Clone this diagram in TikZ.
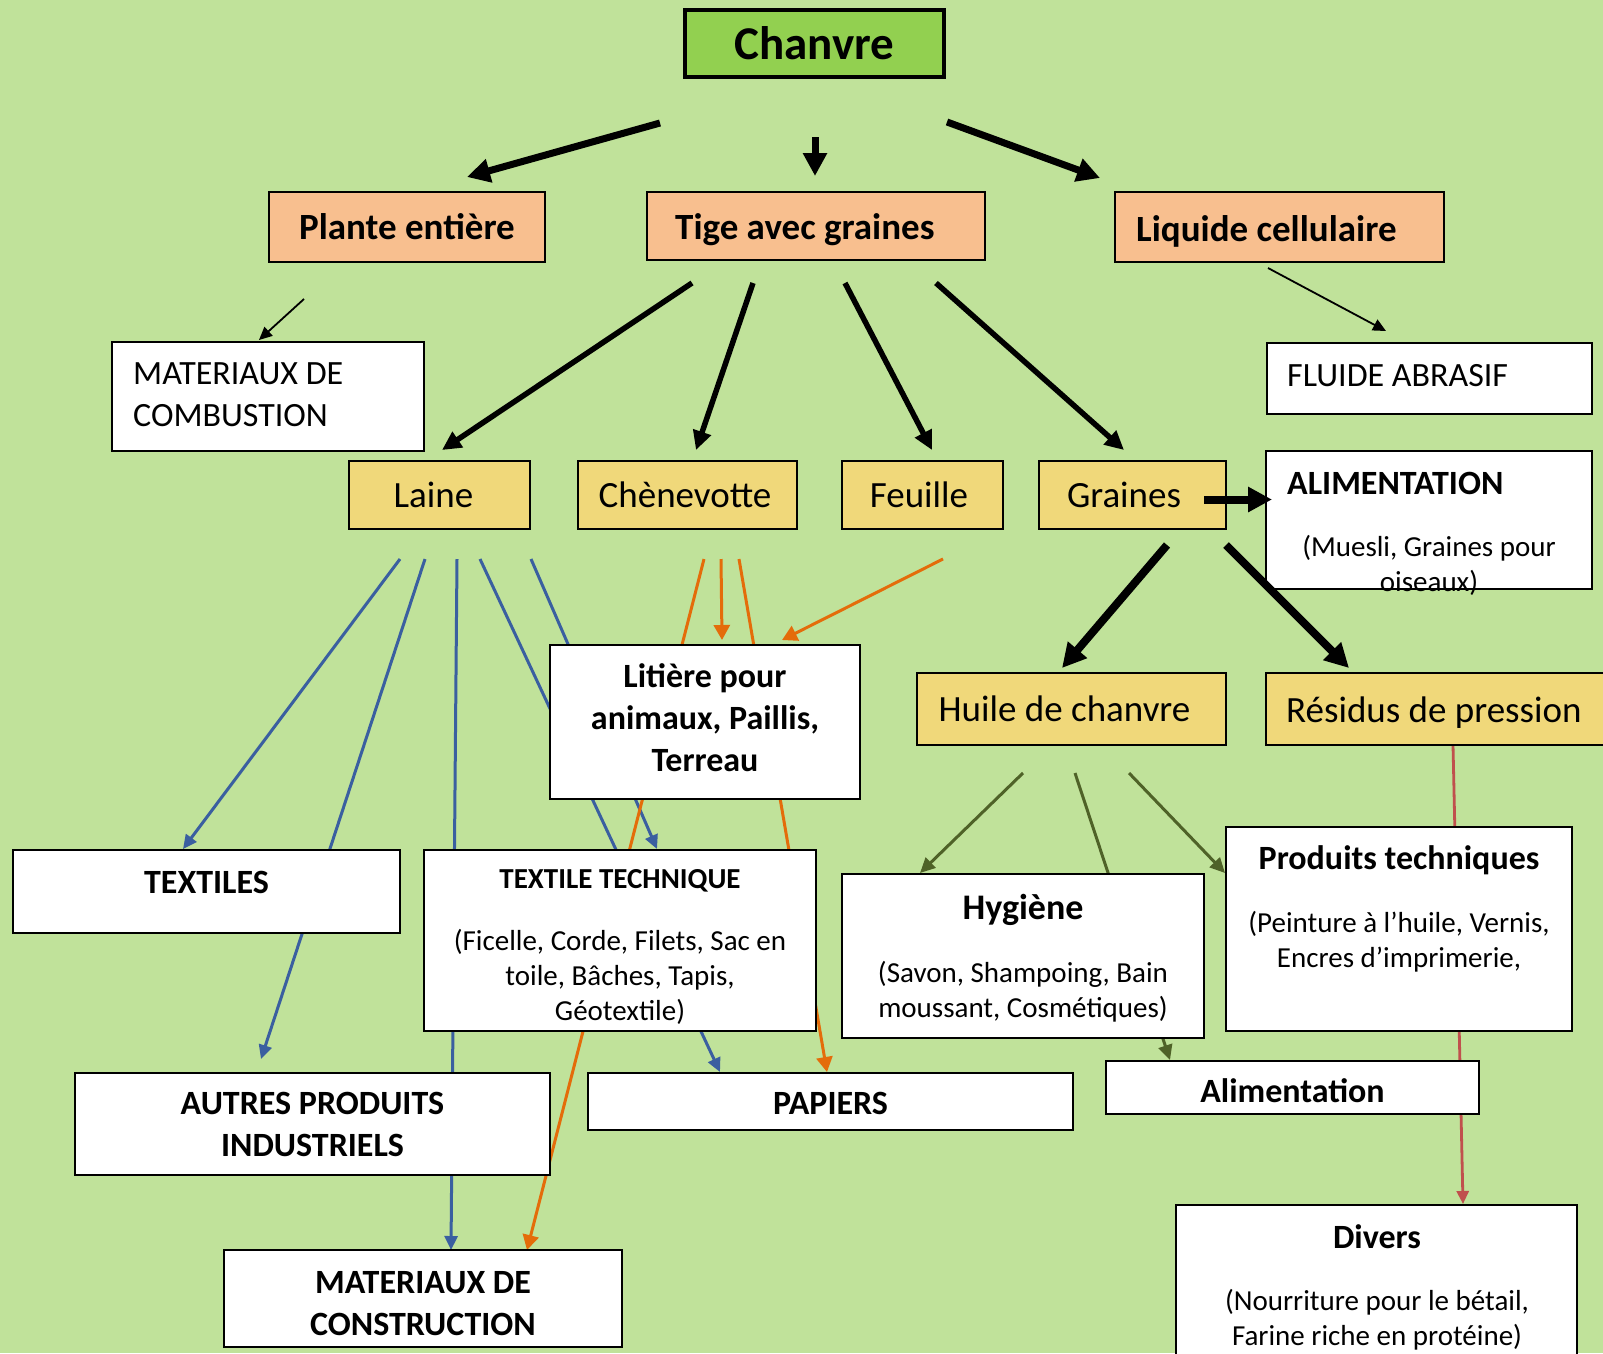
\documentclass[tikz,border=0pt]{standalone}
\usepackage{fontspec}
\setmainfont{Carlito}
\usetikzlibrary{arrows.meta}

\definecolor{fondvert}{HTML}{C0E29A}
\definecolor{vertchanvre}{HTML}{92D050}
\definecolor{saumon}{HTML}{F8BF8F}
\definecolor{jaune}{HTML}{F0D87A}
\definecolor{bleu}{HTML}{3A5FA0}
\definecolor{orangefil}{HTML}{E46C0A}
\definecolor{kaki}{HTML}{4F6228}
\definecolor{rouge}{HTML}{C0504D}

\pgfdeclarelayer{arriere}
\pgfsetlayers{arriere,main}

\newcommand{\ftitre}{\fontsize{47}{57}\selectfont\bfseries}
\newcommand{\fgrand}{\fontsize{37}{45}\selectfont}
\newcommand{\fmoyen}{\fontsize{34}{42}\selectfont}
\newcommand{\fpetit}{\fontsize{29}{35}\selectfont}

\begin{document}
\begin{tikzpicture}[x=1pt, y=-1pt,
  boite/.style={draw, line width=2pt, inner sep=0pt, align=center},
  racine/.style={boite, fill=vertchanvre, line width=3.5pt, font=\ftitre},
  partie/.style={boite, fill=saumon, font=\fgrand\bfseries},
  produit/.style={boite, fill=jaune, font=\fgrand},
  usage/.style={boite, fill=white, font=\fmoyen\bfseries},
  txtgras/.style={inner sep=0pt, align=center, font=\fmoyen\bfseries},
  txtgauche/.style={inner sep=0pt, anchor=west, align=left},
  legende/.style={inner sep=0pt, align=center, font=\fpetit},
  gros/.style={line width=7pt, -{Triangle[length=23pt,width=23pt]}},
  moyen/.style={line width=5.5pt, -{Triangle[length=19pt,width=18pt]}},
  epais/.style={line width=8pt, -{Triangle[length=24pt,width=24pt]}},
  fin/.style={line width=1.8pt, -{Triangle[length=13pt,width=12pt]}},
  filbleu/.style={color=bleu, line width=3pt, -{Triangle[length=14pt,width=13pt]}},
  filorange/.style={color=orangefil, line width=3pt, -{Triangle[length=15pt,width=16pt]}},
  filkaki/.style={color=kaki, line width=3pt, -{Triangle[length=15pt,width=14pt]}},
  filrouge/.style={color=rouge, line width=2.8pt, -{Triangle[length=13pt,width=12pt]}}]
\useasboundingbox (0,0) rectangle (1603,1353);

% racine
\node[racine, minimum width=259pt, minimum height=67pt] (chanvre) at (814.5,43.5) {Chanvre};

% parties de la plante
\node[partie, minimum width=276pt, minimum height=70pt] (plante) at (407,227) {Plante entière};
\node[partie, minimum width=338pt, minimum height=68pt] (tige) at (816,226) {};
\node[txtgauche, font=\fgrand\bfseries] (tige-t) at (675,230) {Tige avec graines};
\node[partie, minimum width=329pt, minimum height=70pt] (liquide) at (1279.5,227) {};
\node[txtgauche, font=\fgrand\bfseries] (liquide-t) at (1136,231) {Liquide cellulaire};

% produits
\node[produit, minimum width=181pt, minimum height=68pt] (laine) at (439.5,495) {Laine\hspace*{12pt}};
\node[produit, minimum width=219pt, minimum height=68pt] (chenevotte) at (687.5,495) {Chènevotte\hspace*{5pt}};
\node[produit, minimum width=161pt, minimum height=68pt] (feuille) at (922.5,495) {Feuille\hspace*{7pt}};
\node[produit, minimum width=187pt, minimum height=68pt] (graines) at (1132.5,495) {Graines\hspace*{17pt}};
\node[produit, minimum width=309pt, minimum height=72pt] (huile) at (1071.5,709) {Huile de chanvre\hspace*{14pt}};
\node[produit, minimum width=344pt, minimum height=72pt] (residus) at (1438,709) {};
\node[txtgauche, font=\fgrand] (residus-t) at (1286,712.5) {Résidus de pression};

% usages
\node[usage, minimum width=312pt, minimum height=109pt] (combustion) at (268,396.5) {};
\node[txtgauche, font=\fmoyen] (combustion-t) at (133,394.5) {MATERIAUX DE\\COMBUSTION};
\node[usage, minimum width=325pt, minimum height=71pt] (fluide) at (1429.5,378.5) {};
\node[txtgauche, font=\fmoyen] (fluide-t) at (1287,376) {FLUIDE ABRASIF};
\node[usage, minimum width=326pt, minimum height=138pt] (alimgr) at (1429,520) {};
\node[txtgras, anchor=west] (alimgr-t) at (1287,483) {ALIMENTATION};
\node[legende] (alimgr-d) at (1429,565) {(Muesli, Graines pour\\oiseaux)};
\node[usage, minimum width=310pt, minimum height=154pt] (litiere) at (705,722) {};
\node[txtgras] (litiere-t) at (705,718) {Litière pour\\animaux, Paillis,\\Terreau};
\node[usage, minimum width=387pt, minimum height=83pt] (textiles) at (206.5,891.5) {};
\node[txtgras] (textiles-t) at (206.5,882) {TEXTILES};
\node[usage, minimum width=392pt, minimum height=181pt] (textech) at (620,940.5) {};
\node[txtgras, font=\fontsize{29}{35}\selectfont\bfseries] (textech-t) at (620,881) {TEXTILE TECHNIQUE};
\node[legende] (textech-d) at (620,977) {(Ficelle, Corde, Filets, Sac en\\toile, Bâches, Tapis,\\Géotextile)};
\node[usage, minimum width=475pt, minimum height=102pt] (autres) at (312.5,1124) {AUTRES PRODUITS\\INDUSTRIELS};
\node[usage, minimum width=398pt, minimum height=97pt] (construction) at (423,1298.5) {};
\node[txtgras] (construction-t) at (423,1303.5) {MATERIAUX DE\\CONSTRUCTION};
\node[usage, minimum width=485pt, minimum height=57pt] (papiers) at (830.5,1101.5) {};
\node[txtgras] (papiers-t) at (830.5,1103.5) {PAPIERS};
\node[usage, minimum width=362pt, minimum height=164pt] (hygiene) at (1023,956) {};
\node[txtgras, font=\fontsize{36}{44}\selectfont\bfseries] (hygiene-t) at (1023,910) {Hygiène};
\node[legende] (hygiene-d) at (1023,992) {(Savon, Shampoing, Bain\\moussant, Cosmétiques)};
\node[usage, minimum width=346pt, minimum height=204pt] (produits) at (1399,929) {};
\node[txtgras] (produits-t) at (1399,860) {Produits techniques};
\node[legende] (produits-d) at (1399,941.5) {(Peinture à l’huile, Vernis,\\Encres d’imprimerie,};
\node[usage, minimum width=373pt, minimum height=53pt] (alimpt) at (1292.5,1087.5) {};
\node[txtgras] (alimpt-t) at (1292.5,1090.5) {Alimentation};
\node[usage, minimum width=401pt, minimum height=160pt] (divers) at (1376.5,1285) {};
\node[txtgras] (divers-t) at (1377,1237) {Divers};
\node[legende] (divers-d) at (1377,1320) {(Nourriture pour le bétail,\\Farine riche en protéine)};

% bouts des fleches
\coordinate (c0a) at (660,123);   \coordinate (c0b) at (467,177);
\coordinate (c1a) at (815,137);   \coordinate (c1b) at (815,176);
\coordinate (c2a) at (947,122);   \coordinate (c2b) at (1100,178);
\coordinate (t1a) at (692,283);   \coordinate (t1b) at (442,450);
\coordinate (t2a) at (753,283);   \coordinate (t2b) at (696,450);
\coordinate (t3a) at (845,283);   \coordinate (t3b) at (932,450);
\coordinate (t4a) at (936,283);   \coordinate (t4b) at (1124,450);
\coordinate (p1a) at (304,299);   \coordinate (p1b) at (259,340);
\coordinate (l1a) at (1268,268);  \coordinate (l1b) at (1386,331);
\coordinate (g0a) at (1204,499.5); \coordinate (g0b) at (1272,499.5);
\coordinate (g1a) at (1167,545);  \coordinate (g1b) at (1062,668);
\coordinate (g2a) at (1226,545);  \coordinate (g2b) at (1349,668);
\coordinate (o1a) at (704,559);   \coordinate (o1b) at (527,1250);
\coordinate (o2a) at (721,559);   \coordinate (o2b) at (722,640);
\coordinate (o3a) at (739,559);   \coordinate (o3b) at (827,1072);
\coordinate (o4a) at (943,559);   \coordinate (o4b) at (782,640);
\coordinate (b1a) at (400,559);   \coordinate (b1b) at (183,849);
\coordinate (b2a) at (425,559);   \coordinate (b2b) at (261,1059);
\coordinate (b3a) at (457,559);   \coordinate (b3b) at (451,1250);
\coordinate (b4a) at (480,559);   \coordinate (b4b) at (720,1072);
\coordinate (b5a) at (531,559);   \coordinate (b5b) at (657,849);
\coordinate (h1a) at (1023,773);  \coordinate (h1b) at (920,873);
\coordinate (h2a) at (1075,773);  \coordinate (h2b) at (1170,1060);
\coordinate (h3a) at (1129,773);  \coordinate (h3b) at (1225,873);
\coordinate (r1a) at (1453,745);  \coordinate (r1b) at (1463,1204);

% fond et fils de couleur derriere les boites
\begin{pgfonlayer}{arriere}
  \fill[fondvert] (0,0) rectangle (1603,1353);
  \draw[filbleu] (b1a) -- (b1b);
  \draw[filbleu] (b2a) -- (b2b);
  \draw[filbleu] (b3a) -- (b3b);
  \draw[filbleu] (b4a) -- (b4b);
  \draw[filbleu] (b5a) -- (b5b);
  \draw[filorange] (o1a) -- (o1b);
  \draw[filorange] (o2a) -- (o2b);
  \draw[filorange] (o3a) -- (o3b);
  \draw[filorange] (o4a) -- (o4b);
  \draw[filkaki] (h1a) -- (h1b);
  \draw[filkaki] (h2a) -- (h2b);
  \draw[filkaki] (h3a) -- (h3b);
  \draw[filrouge] (r1a) -- (r1b);
\end{pgfonlayer}

% fleches noires
\draw[gros] (c0a) -- (c0b);
\draw[gros] (c1a) -- (c1b);
\draw[gros] (c2a) -- (c2b);
\draw[moyen] (t1a) -- (t1b);
\draw[moyen] (t2a) -- (t2b);
\draw[moyen] (t3a) -- (t3b);
\draw[moyen] (t4a) -- (t4b);
\draw[fin] (p1a) -- (p1b);
\draw[fin] (l1a) -- (l1b);
\draw[epais] (g0a) -- (g0b);
\draw[epais] (g1a) -- (g1b);
\draw[epais] (g2a) -- (g2b);
\end{tikzpicture}
\end{document}
